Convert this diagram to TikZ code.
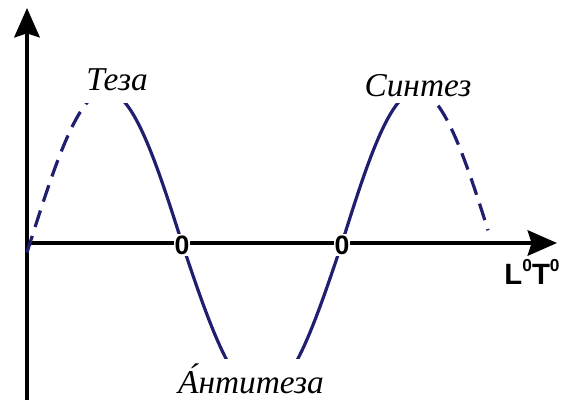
\documentclass[tikz,border=0pt]{standalone}
\usepackage{fontspec}
\setmainfont{Liberation Serif}
\newfontfamily\sansb{Liberation Sans}[BoldFont=* Bold]
\usetikzlibrary{arrows.meta}
\definecolor{wave}{RGB}{32,30,110}
\tikzset{
  axis/.style={line width=3pt,black,-{Stealth[length=22pt,width=19pt,inset=3pt]}},
  wavesolid/.style={line width=2.4pt,wave},
  wavedash/.style={line width=2.4pt,wave,dash pattern=on 13pt off 7pt},
  lbl/.style={font=\fontsize{25}{28}\selectfont\itshape,inner sep=1pt},
  zero/.style={font=\sansb\bfseries\fontsize{20}{22}\selectfont,fill=white,inner sep=0.8pt}
}
\begin{document}
\begin{tikzpicture}[x=0.75pt,y=-0.75pt]
\useasboundingbox (0,0) rectangle (563,400);
\coordinate (vb) at (27,400);
\coordinate (vt) at (27,8);
\coordinate (hl) at (30,243);
\coordinate (hr) at (557,243);
\draw[axis] (vb) -- (vt);
\draw[axis] (hl) -- (hr);
\begin{scope}
\clip (0,103) rectangle (563,358);
\draw[wavedash] plot[domain=27:106,samples=40] (\x,{243-152*sin(180/152*(\x-30))});
\draw[wavesolid] plot[domain=106:182,samples=40] (\x,{243-152*sin(180/152*(\x-30))});
\draw[wavesolid] plot[domain=182:342,samples=60] (\x,{243+152*sin(180/160*(\x-182))});
\draw[wavesolid] plot[domain=342:417,samples=40] (\x,{243-152*sin(180/150*(\x-342))});
\draw[wavedash] plot[domain=417:488,samples=40] (\x,{243-152*sin(180/150*(\x-342))});
\end{scope}
\node[zero] (z1) at (182,245) {0};
\node[zero] (z2) at (342,245) {0};
\node[lbl] (teza) at (117,80) {Теза};
\node[lbl] (sintez) at (418,86) {Синтез};
\node[lbl] (anti) at (251,379) {А́нтитеза};
\node[font=\sansb\bfseries\fontsize{22}{24}\selectfont,inner sep=0pt] (lt) at (532,272) {L\raisebox{0.8ex}{\fontsize{13}{14}\selectfont 0}T\raisebox{0.8ex}{\fontsize{13}{14}\selectfont 0}};
\end{tikzpicture}
\end{document}
